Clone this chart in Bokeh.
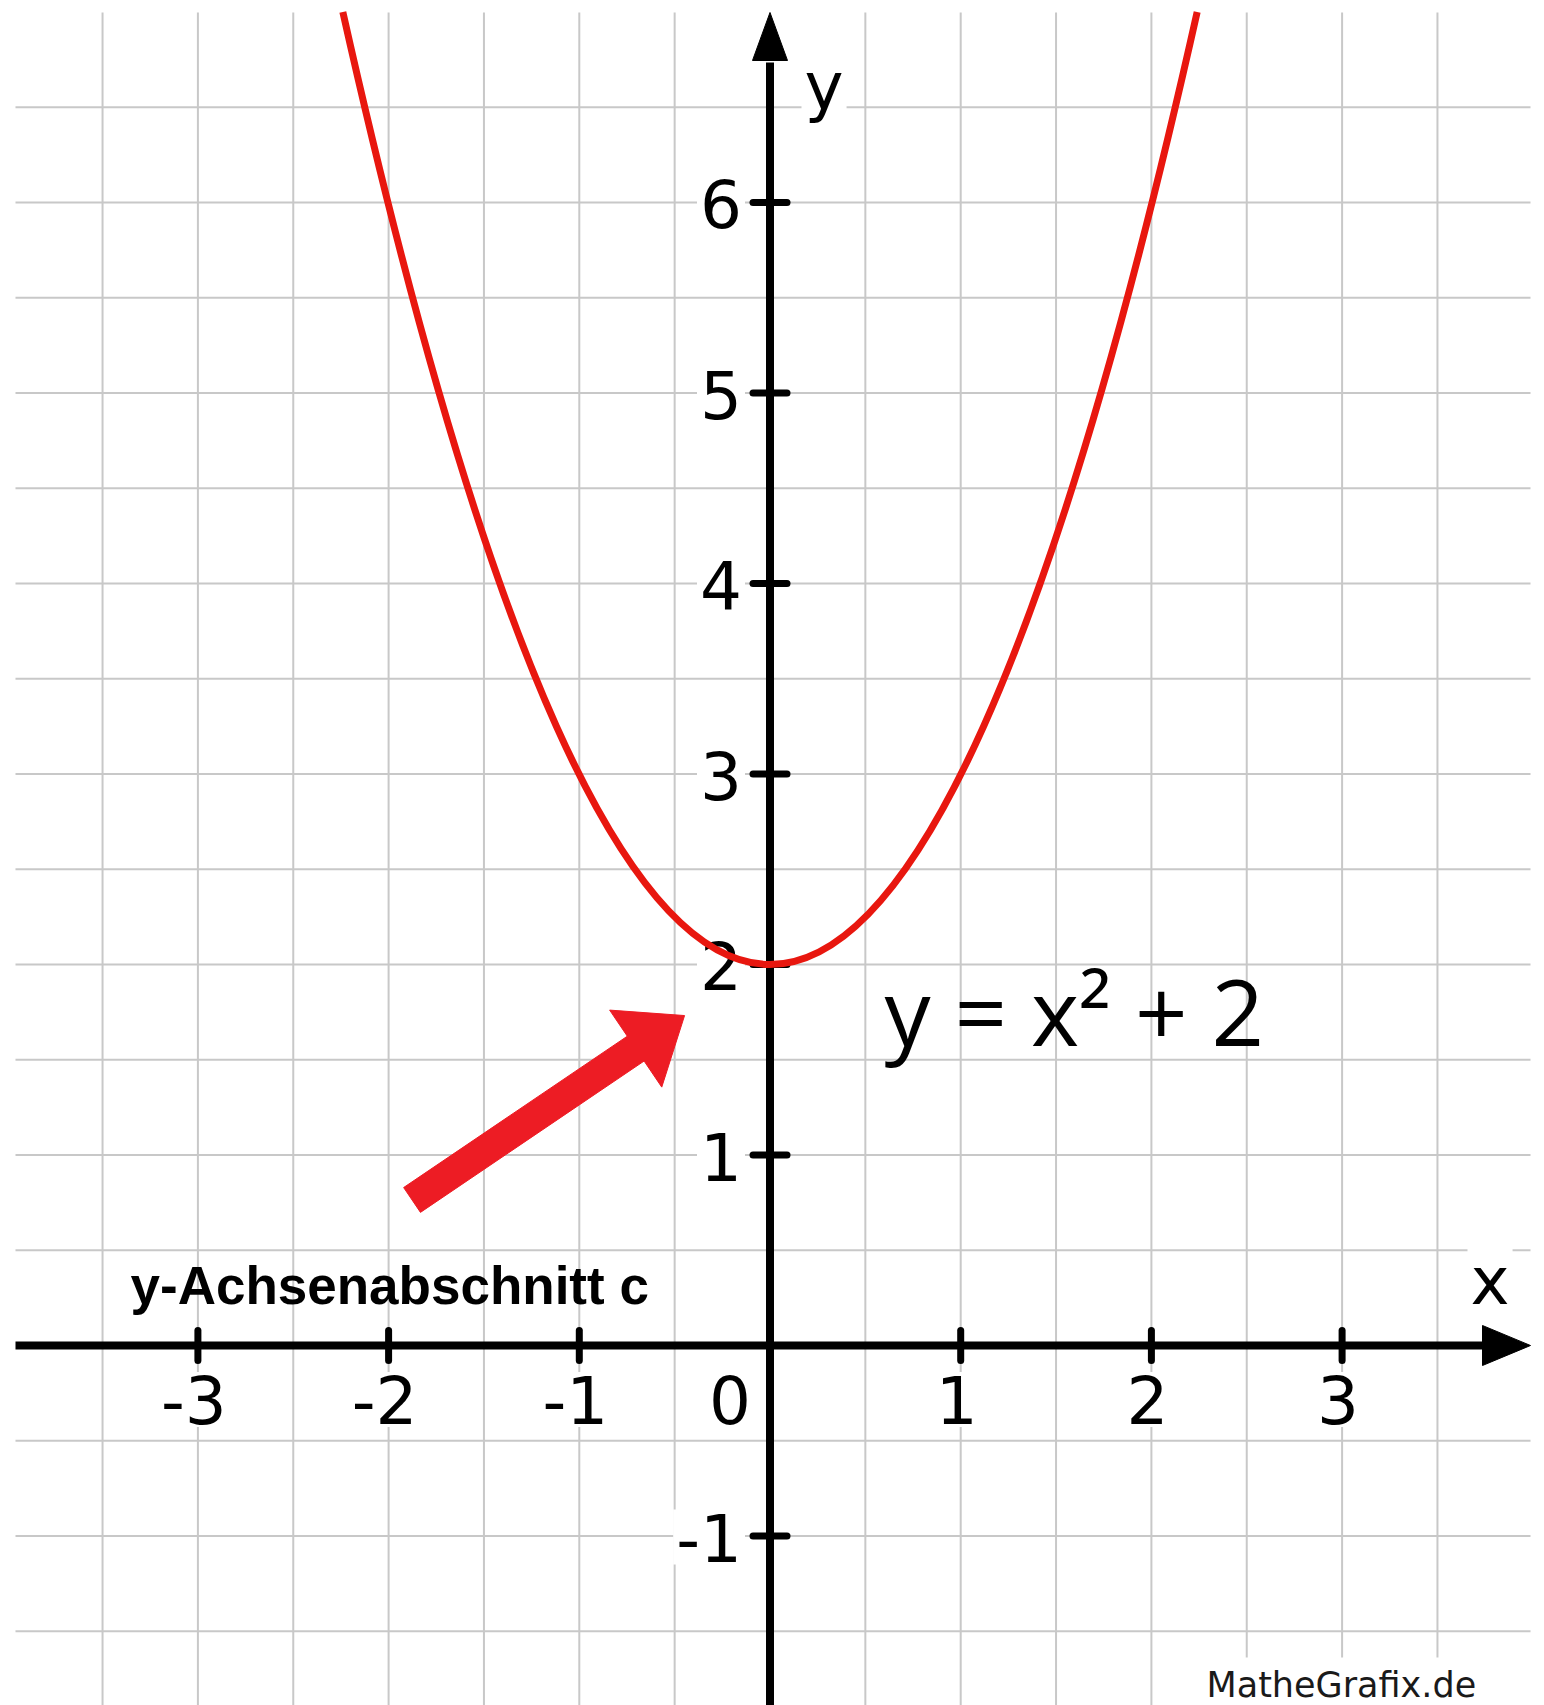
import math
from bokeh.plotting import figure
from bokeh.models import Range1d
from bokeh.core.properties import value
from bokeh.embed import file_html
from bokeh.resources import INLINE

# ---------------- data ----------------
# parabola y = x^2 + 2 : left end, vertex, right end
curve_x = [-2.24, 0.0, 2.24]
curve_y = [7.0, 2.0, 7.0]

x_ticks = [-3, -2, -1, 1, 2, 3]
x_tick_labels = ["-3", "-2", "-1", "1", "2", "3"]
y_ticks = [-1, 1, 2, 3, 4, 5, 6]
y_tick_labels = ["-1", "1", "2", "3", "4", "5", "6"]

grid_x = [-3.5, -3.0, -2.5, -2.0, -1.5, -1.0, -0.5, 0.5, 1.0, 1.5, 2.0, 2.5, 3.0, 3.5]
grid_y = [-1.5, -1.0, -0.5, 0.5, 1.0, 1.5, 2.0, 2.5, 3.0, 3.5, 4.0, 4.5, 5.0, 5.5, 6.0, 6.5]

arrow_tail = [-1.877, 0.764]
arrow_tip = [-0.448, 1.732]

equation_text = "y = x\u00b2 + 2"
annotation_text = "y-Achsenabschnitt c"
credit_text = "MatheGrafix.de"
x_axis_label = "x"
y_axis_label = "y"

# ---------------- layout ----------------
W, H = 1544, 1705
OX, OY = 769.5, 1345.0      # page pixel of origin
UX, UY = 190.7, 190.5       # pixels per unit


def px2x(X):
    return (X - OX) / UX


def px2y(Y):
    return (OY - Y) / UY


x_start, x_end = px2x(0), px2x(W)
y_start, y_end = px2y(H), px2y(0)

p = figure(width=W, height=H, x_range=Range1d(x_start, x_end),
           y_range=Range1d(y_start, y_end), output_backend="svg",
           toolbar_location=None, x_axis_type=None, y_axis_type=None,
           min_border=0, outline_line_color=None, background_fill_color="white",
           border_fill_color="white")

GRID = "#c8c8c8"
gx_left, gx_right = px2x(15), px2x(1530)
gy_top, gy_bottom = px2y(12), y_start

# grid
p.segment(x0=grid_x, y0=[gy_bottom] * len(grid_x), x1=grid_x, y1=[gy_top] * len(grid_x),
          line_color=GRID, line_width=2)
p.segment(x0=[gx_left] * len(grid_y), y0=grid_y, x1=[gx_right] * len(grid_y), y1=grid_y,
          line_color=GRID, line_width=2)

FONT = value("DejaVu Sans")
common = dict(text_font=FONT, text_font_size="66px", text_color="black",
              background_fill_color="white", padding=3, text_baseline="middle")

# tick labels
p.text(x=x_ticks, y=[0] * len(x_ticks), text=x_tick_labels, text_align="center",
       x_offset=-4, y_offset=54, **common)
p.text(x=[0] * len(y_ticks), y=y_ticks, text=y_tick_labels, text_align="right",
       x_offset=-25, y_offset=1, **common)
p.text(x=[0], y=[0], text=["0"], text_align="right",
       x_offset=-16, y_offset=54, **common)

# axis labels
p.text(x=[px2x(801)], y=[px2y(86)], text=[y_axis_label], text_align="left", **common)
p.text(x=[px2x(1467)], y=[px2y(1281)], text=[x_axis_label], text_align="left", **common)

# axes
ax_tip_x, ax_base_x, ax_half = px2x(1530), px2x(1482), 20 / UY
ay_tip_y, ay_base_y, ay_half = px2y(12), px2y(60), 17.5 / UX
p.segment(x0=[gx_left, 0], y0=[0, y_start], x1=[ax_base_x + 0.01, 0], y1=[0, ay_base_y - 0.01],
          line_color="black", line_width=8)
p.patch(x=[ax_base_x, ax_tip_x, ax_base_x], y=[ax_half, 0, -ax_half],
        fill_color="black", line_color="black", line_width=1)
p.patch(x=[-ay_half, 0, ay_half], y=[ay_base_y, ay_tip_y, ay_base_y],
        fill_color="black", line_color="black", line_width=1)

# tick marks
tx = 15 / UY
ty = 17 / UX
p.segment(x0=x_ticks, y0=[-tx] * len(x_ticks), x1=x_ticks, y1=[tx] * len(x_ticks),
          line_color="black", line_width=7, line_cap="round")
p.segment(x0=[-ty] * len(y_ticks), y0=y_ticks, x1=[ty] * len(y_ticks), y1=y_ticks,
          line_color="black", line_width=7, line_cap="round")

# parabola as quadratic Bezier through left end, vertex and right end
cy = 2 * curve_y[1] - (curve_y[0] + curve_y[2]) / 2
p.quadratic(x0=[curve_x[0]], y0=[curve_y[0]], x1=[curve_x[2]], y1=[curve_y[2]],
            cx=[curve_x[1]], cy=[cy], line_color="#e8170f", line_width=7)

# red arrow (polygon built in pixel space)
Tx, Ty = arrow_tail[0] * UX, arrow_tail[1] * UY
Px, Py = arrow_tip[0] * UX, arrow_tip[1] * UY
L = math.hypot(Px - Tx, Py - Ty)
ux, uy = (Px - Tx) / L, (Py - Ty) / L
nx, ny = -uy, ux
shaft, head_len, head_w = 30, 59, 93
Bx, By = Px - head_len * ux, Py - head_len * uy
pts = [(Tx + nx * shaft / 2, Ty + ny * shaft / 2),
       (Bx + nx * shaft / 2, By + ny * shaft / 2),
       (Bx + nx * head_w / 2, By + ny * head_w / 2),
       (Px, Py),
       (Bx - nx * head_w / 2, By - ny * head_w / 2),
       (Bx - nx * shaft / 2, By - ny * shaft / 2),
       (Tx - nx * shaft / 2, Ty - ny * shaft / 2)]
p.patch(x=[a / UX for a, b in pts], y=[b / UY for a, b in pts],
        fill_color="#ed1c24", line_color="#ed1c24", line_width=1)

# texts
p.text(x=[px2x(884)], y=[px2y(1010)], text=[equation_text], text_align="left",
       text_baseline="middle", text_font=value("Open Sans"), text_font_size="92px",
       text_color="black")
p.text(x=[px2x(130)], y=[px2y(1285)], text=[annotation_text], text_align="left",
       text_baseline="middle", text_font=value("Liberation Sans"), text_font_size="53px",
       text_font_style="bold", text_color="black")
p.text(x=[px2x(1199)], y=[px2y(1684)], text=[credit_text], text_align="left",
       text_baseline="middle", text_font=FONT, text_font_size="35px",
       text_color="#1a1a1a", background_fill_color="white", padding=7)

open("out.html", "w").write(file_html(p, INLINE))
